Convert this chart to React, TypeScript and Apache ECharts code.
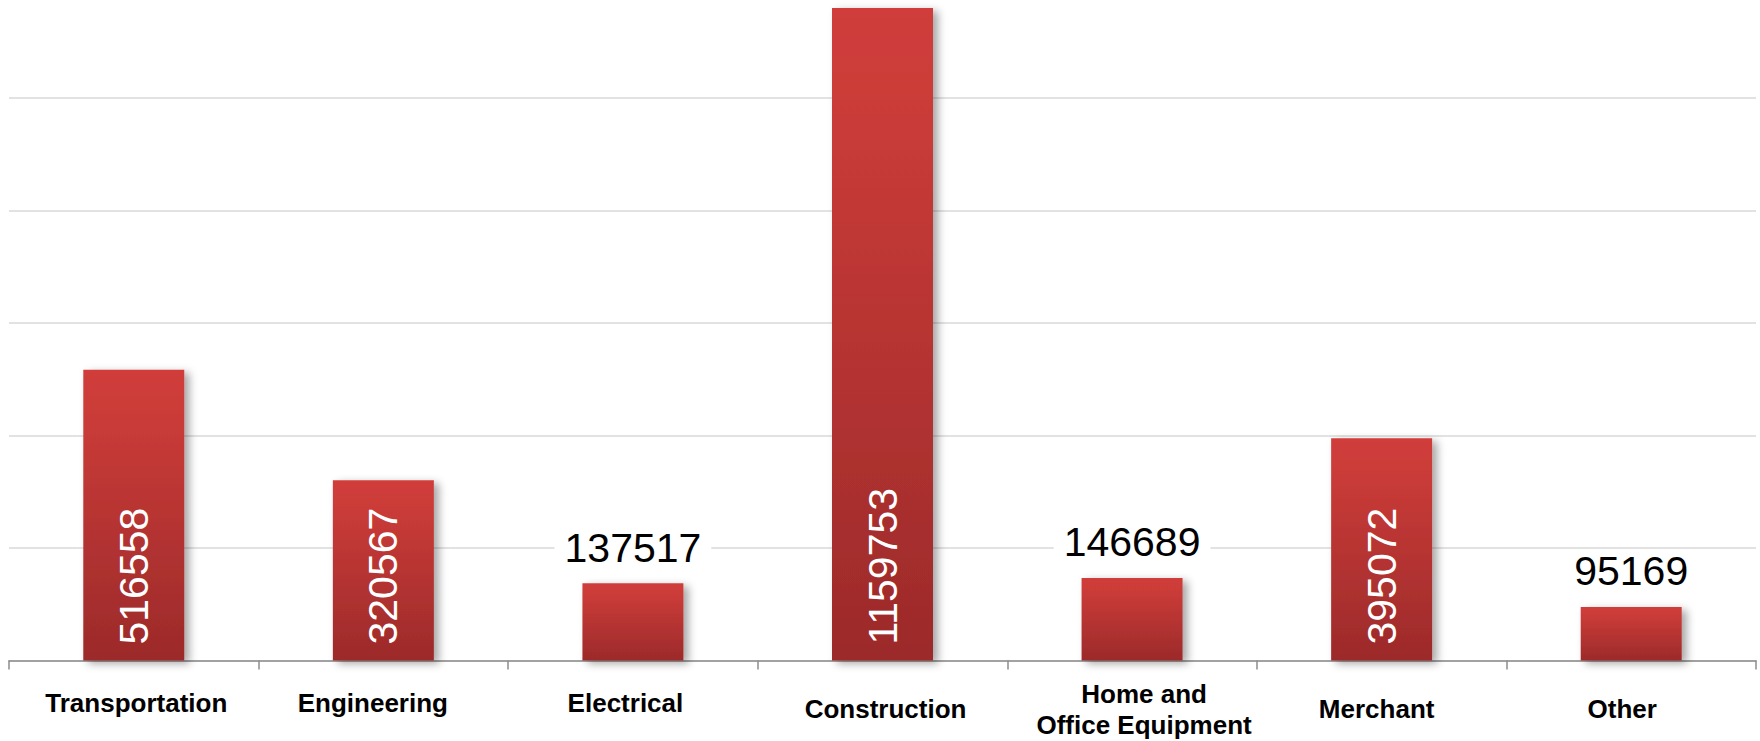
import React, { useEffect, useRef } from "react";
import * as echarts from "echarts";

const categories = [
  "Transportation",
  "Engineering",
  "Electrical",
  "Construction",
  "Home and\nOffice Equipment",
  "Merchant",
  "Other",
];
const values = [516558, 320567, 137517, 1159753, 146689, 395072, 95169];
const insideLabel = [true, true, false, true, false, true, false];

// per-category label padding [top, right, bottom, left] to mimic reference placement
const labelPads = [
  [9, 0, 0, 5],
  [9, 21, 0, 0],
  [9, 15, 0, 0],
  [15, 0, 0, 6],
  [0, 0, 0, 24],
  [15, 10, 0, 0],
  [15, 18, 0, 0],
];

const FONT = "'Liberation Sans', Arial, sans-serif";

export default function App() {
  const ref = useRef<HTMLDivElement>(null);
  useEffect(() => {
    if (!ref.current) return;
    const chart = echarts.init(ref.current, undefined, { renderer: "svg" });
    const barGradient = new echarts.graphic.LinearGradient(0, 0, 0, 1, [
      { offset: 0, color: "#D03E3B" },
      { offset: 0.12, color: "#CC3C39" },
      { offset: 1, color: "#9C2A2A" },
    ]);
    chart.setOption({
      animation: false,
      backgroundColor: "#ffffff",
      grid: { left: 9, right: 4, top: 8, bottom: 80.5, containLabel: false },
      xAxis: {
        type: "category",
        data: categories.map((c, i) => ({
          value: c,
          textStyle: { padding: labelPads[i] },
        })),
        boundaryGap: true,
        axisLine: { show: true, lineStyle: { color: "#8c8c8c", width: 1.5 } },
        axisTick: { show: true, length: 9, lineStyle: { color: "#8c8c8c", width: 1.5 } },
        axisLabel: {
          interval: 0,
          margin: 18,
          color: "#000",
          fontFamily: FONT,
          fontWeight: "bold",
          fontSize: 26,
          lineHeight: 31,
        },
        splitLine: { show: false },
      },
      yAxis: {
        type: "value",
        min: 0,
        max: Math.max(...values),
        interval: 200000,
        axisLine: { show: false },
        axisTick: { show: false },
        axisLabel: { show: false },
        splitLine: {
          show: true,
          showMaxLine: false,
          lineStyle: { color: "#d9d9d9", width: 1.5 },
        },
      },
      series: [
        {
          type: "bar",
          barWidth: 101,
          data: values.map((v, i) => ({
            value: v,
            label: insideLabel[i]
              ? {
                  show: true,
                  position: "insideBottom",
                  rotate: 90,
                  align: "left",
                  verticalAlign: "middle",
                  distance: 16,
                  color: "#ffffff",
                  fontFamily: FONT,
                  fontSize: 41,
                }
              : {
                  show: true,
                  position: "top",
                  distance: 13,
                  color: "#000000",
                  fontFamily: FONT,
                  fontSize: 41,
                  backgroundColor: "#ffffff",
                  padding: [2, 10],
                },
          })),
          itemStyle: {
            color: barGradient,
            shadowColor: "rgba(0,0,0,0.35)",
            shadowBlur: 8,
            shadowOffsetX: 5,
            shadowOffsetY: 3,
          },
        },
      ],
    });
    return () => chart.dispose();
  }, []);
  return (
    <div
      ref={ref}
      style={{ position: "absolute", left: 0, top: 0, width: 1760, height: 741 }}
    />
  );
}
